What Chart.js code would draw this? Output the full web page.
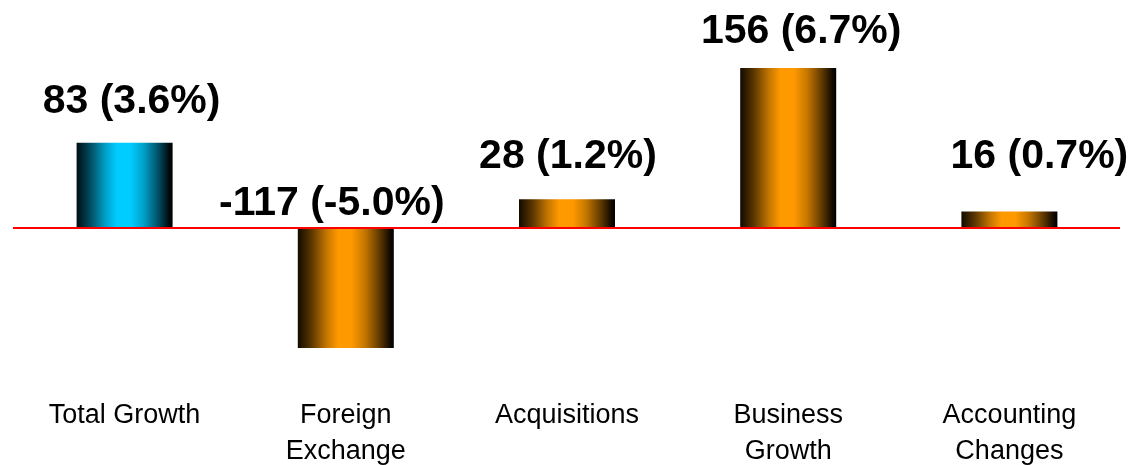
<!DOCTYPE html>
<html>
<head>
<meta charset="utf-8">
<script src="https://cdn.jsdelivr.net/npm/chart.js@4/dist/chart.umd.min.js"></script>
<style>
    html, body { margin: 0; padding: 0; background: #fff; }
    #wrap { width: 1146px; height: 465px; }
</style>
</head>
<body>
<div id="wrap"><canvas id="growthChart"></canvas></div>
<script>
// ===== データ =====
const categories = [['Total Growth'], ['Foreign', 'Exchange'], ['Acquisitions'], ['Business', 'Growth'], ['Accounting', 'Changes']];
const growthValues = [83, -117, 28, 156, 16];
const growthPercents = [3.6, -5.0, 1.2, 6.7, 0.7];

// ラベル位置の微調整 (px)
const labelNudgeX = [7, -14, 1, 13, 30];
const labelGapY = [30, 13, 31, 25, 44];

const FONT = '"Liberation Sans", Arial, Helvetica, sans-serif';

// 棒の横方向グラデーション（両端が暗く中央が明るい）
const SHADES = {
    orange: ['#120a00', '#5a3600', '#c47600', '#ff9900'],
    cyan:   ['#000d12', '#024a5e', '#00a0c8', '#00ccff']
};
function barGradient(ctx, left, right, tone) {
    const s = SHADES[tone];
    const g = ctx.createLinearGradient(left, 0, right, 0);
    g.addColorStop(0, s[0]);
    g.addColorStop(0.14, s[1]);
    g.addColorStop(0.3, s[2]);
    g.addColorStop(0.42, s[3]);
    g.addColorStop(0.56, s[3]);
    g.addColorStop(0.7, s[2]);
    g.addColorStop(0.86, s[1]);
    g.addColorStop(0.96, s[0]);
    g.addColorStop(1, '#000000');
    return g;
}

const BAR_PCT = 0.434;

// ===== 値ラベル・カテゴリ・ゼロ線の描画 =====
const annotate = {
    id: 'annotate',
    afterDatasetsDraw(chart) {
        const ctx = chart.ctx;
        const x = chart.scales.x;
        const y = chart.scales.y;
        const zero = y.getPixelForValue(0);

        // ゼロ線
        ctx.save();
        ctx.strokeStyle = '#ff0000';
        ctx.lineWidth = 2;
        ctx.beginPath();
        ctx.moveTo(chart.chartArea.left - 1, zero);
        ctx.lineTo(chart.chartArea.right, zero);
        ctx.stroke();

        // 値ラベル
        ctx.fillStyle = '#000';
        ctx.textAlign = 'center';
        ctx.textBaseline = 'alphabetic';
        ctx.font = 'bold 41px ' + FONT;
        growthValues.forEach((v, i) => {
            const cx = x.getPixelForValue(i) + labelNudgeX[i];
            const top = v >= 0 ? y.getPixelForValue(v) : zero;
            const pct = growthPercents[i].toFixed(1);
            ctx.fillText(v + ' (' + pct + '%)', cx, top - labelGapY[i]);
        });

        // カテゴリ名
        ctx.font = '27px ' + FONT;
        categories.forEach((lines, i) => {
            const cx = x.getPixelForValue(i);
            lines.forEach((t, j) => ctx.fillText(t, cx, 423 + j * 36));
        });
        ctx.restore();
    }
};

const canvas = document.getElementById('growthChart');
new Chart(canvas.getContext('2d'), {
    type: 'bar',
    data: {
        labels: categories.map(c => c.join(' ')),
        datasets: [{
            data: growthValues,
            borderWidth: 0,
            barPercentage: BAR_PCT,
            categoryPercentage: 1,
            backgroundColor: (c) => {
                const chart = c.chart;
                if (!chart.chartArea) return '#ff9900';
                const xs = chart.scales.x;
                const cx = xs.getPixelForValue(c.dataIndex);
                const half = (xs.width / categories.length) * BAR_PCT / 2;
                return barGradient(chart.ctx, cx - half, cx + half, c.dataIndex === 0 ? 'cyan' : 'orange');
            }
        }]
    },
    options: {
        responsive: true,
        maintainAspectRatio: false,
        animation: false,
        layout: { padding: { left: 14, right: 26, top: 0, bottom: 0 } },
        plugins: { legend: { display: false }, tooltip: { enabled: false } },
        scales: {
            x: { display: false },
            y: { display: false, min: -231.1, max: 222.3 }
        }
    },
    plugins: [annotate]
});
</script>
</body>
</html>
